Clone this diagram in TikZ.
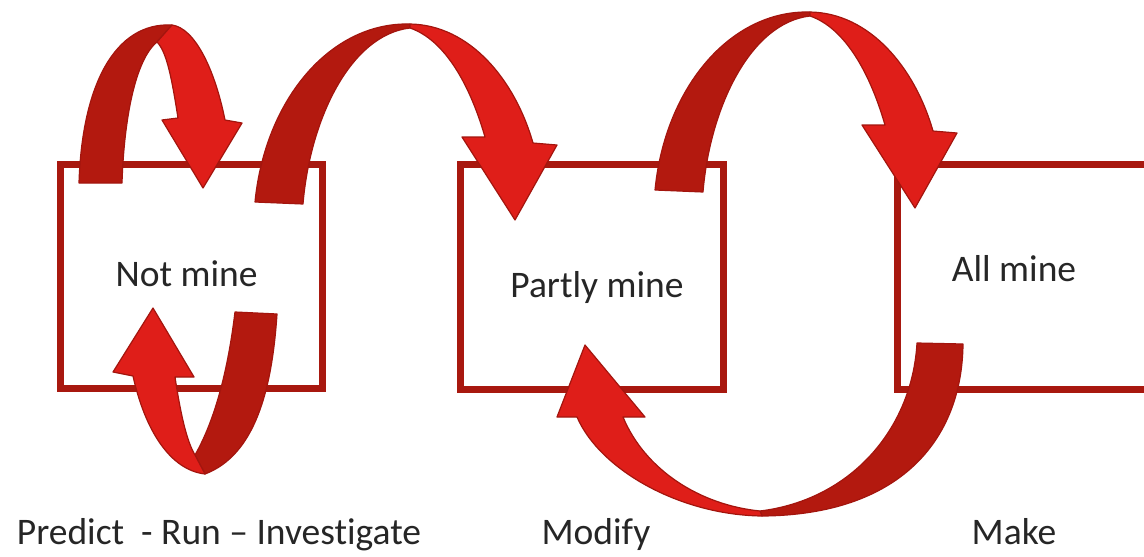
\documentclass[tikz,border=0pt]{standalone}
\usepackage{fontspec}
\setmainfont{Carlito}[Ligatures=NoCommon]
\definecolor{boxred}{HTML}{A8180F}
\definecolor{backred}{HTML}{B3190F}
\definecolor{frontred}{HTML}{DF1E19}
\definecolor{edgered}{HTML}{A3150E}
\definecolor{inkgray}{HTML}{262626}
\begin{document}
\begin{tikzpicture}[x=1pt,y=-1pt,
		stage/.style={draw=boxred,line width=7pt,fill=white,inner sep=0pt,anchor=north west},
		back/.style={fill=backred,draw=edgered,line width=1.2pt,line join=round},
		front/.style={fill=frontred,draw=edgered,line width=1.2pt,line join=round},
		word/.style={text=inkgray,font=\fontsize{37.5}{40}\selectfont,anchor=base},
		hop/.pic={
			\draw[back] (255,202) .. controls (265,100) and (330,22) .. (410,24) -- (410,28) .. controls (350,35) and (310,120) .. (303,204) -- cycle;
			\draw[front] (410,24) .. controls (470,25) and (515,80) .. (533,143) -- (557,145) -- (515,220) -- (462,137) -- (485,137) .. controls (470,85) and (445,40) .. (410,28) -- cycle;
		}]
	\useasboundingbox (0,0) rectangle (1144,557);
	\clip (0,0) rectangle (1144,557);
	% the three stages
	\node[stage,minimum width=262pt,minimum height=224pt] (notmine) at (57,161) {};
	\node[stage,minimum width=263pt,minimum height=225pt] (partly) at (457,161) {};
	\node[stage,minimum width=320pt,minimum height=225pt] (allmine) at (894,161) {};
	% loops round "Not mine"
	\draw[back] (79,183) .. controls (82,85) and (115,22) .. (172,25) -- (157,42) .. controls (135,60) and (124,120) .. (122,183) -- cycle;
	\draw[front] (172,25) .. controls (195,28) and (215,70) .. (225,120) -- (242,123) -- (203,188) -- (162,120) -- (178,118) .. controls (172,80) and (167,52) .. (157,42) -- cycle;
	\draw[back] (235,312) -- (277,314) .. controls (272,390) and (255,455) .. (205,474) -- (195,455) .. controls (215,420) and (228,370) .. (235,312) -- cycle;
	\draw[front] (205,474) .. controls (170,470) and (145,430) .. (133,376) -- (113,372) -- (153,308) -- (194,377) -- (175,377) .. controls (180,410) and (186,440) .. (195,455) -- cycle;
	% hops forward
	\pic at (0,0) {hop};
	\pic at (400,-12) {hop};
	% back from "All mine"
	\draw[back] (917,343) -- (963,344) .. controls (962,440) and (900,515) .. (762,516) -- (760,511) .. controls (850,500) and (912,430) .. (917,343) -- cycle;
	\draw[front] (762,516) .. controls (680,515) and (600,470) .. (577,417) -- (557,417) -- (585,345) -- (645,417) -- (623,417) .. controls (645,470) and (700,505) .. (760,511) -- cycle;
	% labels
	\node[word] (tnot) at (186.5,286) {Not mine};
	\node[word] (tpartly) at (597,297) {Partly mine};
	\node[word] (tall) at (1014,281) {All mine};
	\node[word] (lpri) at (219,544) {Predict\ \ - Run – Investigate};
	\node[word] (lmod) at (596,544) {Modify};
	\node[word] (lmake) at (1014,544) {Make};
\end{tikzpicture}
\end{document}
